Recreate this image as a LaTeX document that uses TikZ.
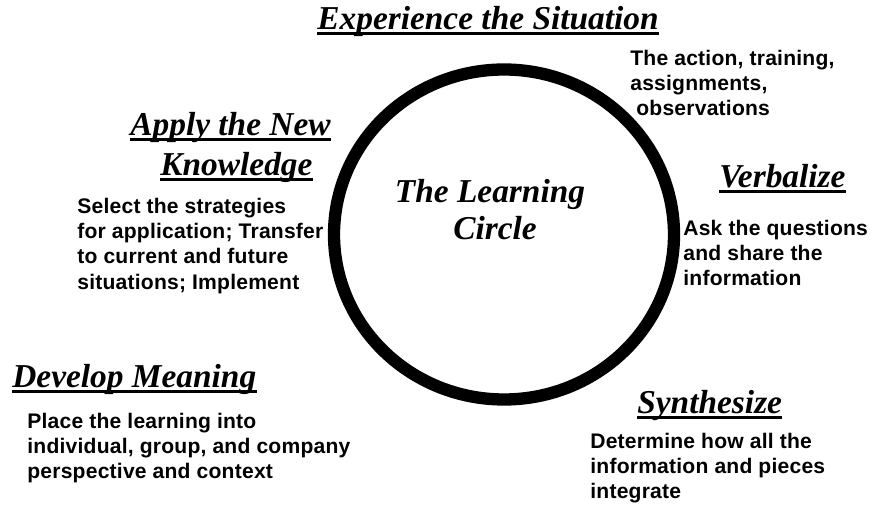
\documentclass[tikz,border=0pt]{standalone}
\usepackage{fontspec}
\newfontfamily\headfont{Liberation Serif}
\newfontfamily\bodyfont{Liberation Sans}[LetterSpace=1]

\begin{document}
\begin{tikzpicture}[
  heading/.style={anchor=base west, inner sep=0pt, font=\headfont\bfseries\itshape\fontsize{19}{22}\selectfont},
  title/.style={anchor=base, inner sep=0pt, font=\headfont\bfseries\itshape\fontsize{19}{22}\selectfont},
  blurb/.style={anchor=north west, inner sep=0pt, align=left, font=\bodyfont\bfseries\fontsize{12}{14.3}\selectfont}
]
  \useasboundingbox (0,0) rectangle (17.46,10.28);

  % --- the circle with its title ---
  \draw[line width=7pt] (10.08,5.59) ellipse [x radius=3.40, y radius=3.30];
  \node[title] (title1) at (9.80,6.22) {The Learning};
  \node[title] (title2) at (9.90,5.48) {Circle};

  % --- stage headings ---
  \node[heading] (exper) at (6.34,9.68) {Experience the Situation};
  \node[heading] (apply) at (2.60,7.56) {Apply the New};
  \node[heading] (know) at (3.20,6.76) {Knowledge};
  \node[heading] (verbal) at (14.38,6.52) {Verbalize};
  \node[heading] (synth) at (12.74,2.00) {Synthesize};
  \node[heading] (develop) at (0.24,2.52) {Develop Meaning};

  % underline every heading
  \foreach \h in {exper, apply, know, verbal, synth, develop}
    \draw[line width=1.2pt] ([yshift=-0.07cm]\h.base west) -- ([yshift=-0.07cm]\h.base east);

  % --- stage descriptions ---
  \node[blurb] (action) at (12.60,9.28) {The action, training,\\assignments,\\\hspace*{0.12cm}observations};
  \node[blurb] (select) at (1.54,6.32) {Select the strategies\\for application; Transfer\\to current and future\\situations; Implement};
  \node[blurb] (ask) at (13.66,5.88) {Ask the questions\\and share the\\information};
  \node[blurb] (place) at (0.54,2.02) {Place the learning into\\individual, group, and company\\perspective and context};
  \node[blurb] (determine) at (11.80,1.62) {Determine how all the\\information and pieces\\integrate};
\end{tikzpicture}
\end{document}
